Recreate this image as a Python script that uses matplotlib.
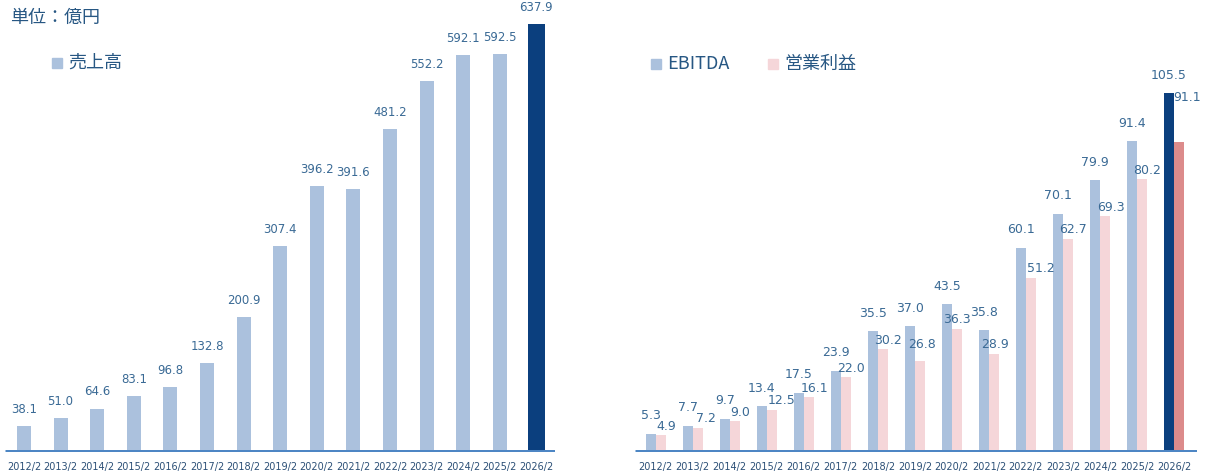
import matplotlib
matplotlib.use("Agg")
import matplotlib.pyplot as plt
from matplotlib.patches import Rectangle

# ---- data (億円) ----
years = ["2012/2", "2013/2", "2014/2", "2015/2", "2016/2", "2017/2", "2018/2",
         "2019/2", "2020/2", "2021/2", "2022/2", "2023/2", "2024/2", "2025/2", "2026/2"]
sales = [38.1, 51.0, 64.6, 83.1, 96.8, 132.8, 200.9, 307.4, 396.2, 391.6,
         481.2, 552.2, 592.1, 592.5, 637.9]
ebitda = [5.3, 7.7, 9.7, 13.4, 17.5, 23.9, 35.5, 37.0, 43.5, 35.8,
          60.1, 70.1, 79.9, 91.4, 105.5]
op_income = [4.9, 7.2, 9.0, 12.5, 16.1, 22.0, 30.2, 26.8, 36.3, 28.9,
             51.2, 62.7, 69.3, 80.2, 91.1]

unit_label = "単位：億円"
sales_name = "売上高"
ebitda_name = "EBITDA"
op_name = "営業利益"

# ---- styling ----
LIGHT_BLUE = "#abc1dd"
DARK_BLUE = "#0b3f7e"
LIGHT_PINK = "#f5d6d9"
DARK_PINK = "#dc8b8b"
BASE_LINE = "#4d86c4"
VALUE_TXT = "#3a6a95"
TICK_TXT = "#2b4f76"
HEAD_TXT = "#275783"
JP = ["Noto Sans CJK JP", "DejaVu Sans"]

W, H = 1214, 472
fig = plt.figure(figsize=(W / 100, H / 100), dpi=100)


def px_axes(left, right, top, bottom):
    return fig.add_axes([left / W, 1 - bottom / H, (right - left) / W, (bottom - top) / H])


def style_axes(ax):
    for s in ax.spines.values():
        s.set_visible(False)
    ax.set_yticks([])
    ax.tick_params(axis="x", length=0, pad=7, labelsize=7, labelcolor=TICK_TXT)
    ax.axhline(0, color=BASE_LINE, lw=3.6, zorder=3, solid_capstyle="butt")
    ax.patch.set_alpha(0)


n = len(years)
xs = list(range(n))

# ---- left panel: sales ----
ax1 = px_axes(5, 555, 0, 452)
ax1.set_xlim((5 - 24) / 36.6, (555 - 24) / 36.6)
ax1.set_ylim(0, 452 / 0.671)
colors1 = [LIGHT_BLUE] * (n - 1) + [DARK_BLUE]
widths1 = [0.38] * (n - 1) + [0.45]
ax1.bar(xs, sales, width=widths1, color=colors1, zorder=2)
for x, v in zip(xs, sales):
    ax1.annotate(f"{v:.1f}", (x, v), xytext=(0, 12), textcoords="offset points",
                 ha="center", va="center", fontsize=8.5, color=VALUE_TXT)
ax1.set_xticks(xs)
ax1.set_xticklabels(years)
style_axes(ax1)

# ---- right panel: EBITDA / operating income ----
ax2 = px_axes(635, 1197, 0, 452)
ax2.set_xlim((635 - 655.7) / 37.02, (1197 - 655.7) / 37.02)
ax2.set_ylim(0, 452 / 3.40)
bw = 0.27
colors_e = [LIGHT_BLUE] * (n - 1) + [DARK_BLUE]
colors_o = [LIGHT_PINK] * (n - 1) + [DARK_PINK]
ax2.bar([x - bw / 2 for x in xs], ebitda, width=bw, color=colors_e, zorder=2)
ax2.bar([x + bw / 2 for x in xs], op_income, width=bw, color=colors_o, zorder=2)

# operating-income labels sit slightly right of their bars; a few are nudged
op_dx = {1: 6, 3: 7, 7: 1.5, 8: 0, 9: 0.7, 10: 7, 14: 6}
op_dy = {7: 12, 14: 32}
for x, v in zip(xs, ebitda):
    ax2.annotate(f"{v:.1f}", (x - bw / 2, v), xytext=(0, 13), textcoords="offset points",
                 ha="center", va="center", fontsize=9, color=VALUE_TXT, zorder=4)
for x, v in zip(xs, op_income):
    ax2.annotate(f"{v:.1f}", (x + bw / 2, v),
                 xytext=(op_dx.get(x, 4), op_dy.get(x, 6.5)),
                 textcoords="offset points", ha="center", va="center",
                 fontsize=9, color=VALUE_TXT, zorder=4)
ax2.set_xticks(xs)
ax2.set_xticklabels(years)
style_axes(ax2)

# ---- headings and legends ----
fig.text(10 / W, 1 - 18 / H, unit_label, family=JP, fontsize=13, color=HEAD_TXT,
         ha="left", va="center")


def legend_item(x, y, color, label):
    fig.patches.append(Rectangle((x / W, 1 - (y + 5) / H), 10 / W, 10 / H,
                                 transform=fig.transFigure, color=color))
    fig.text((x + 16) / W, 1 - y / H, label, family=JP, fontsize=13,
             color=HEAD_TXT, ha="left", va="center")


legend_item(52, 63, LIGHT_BLUE, sales_name)
legend_item(651, 64, LIGHT_BLUE, ebitda_name)
legend_item(768, 64, LIGHT_PINK, op_name)

fig.savefig("out.png", dpi=100)
